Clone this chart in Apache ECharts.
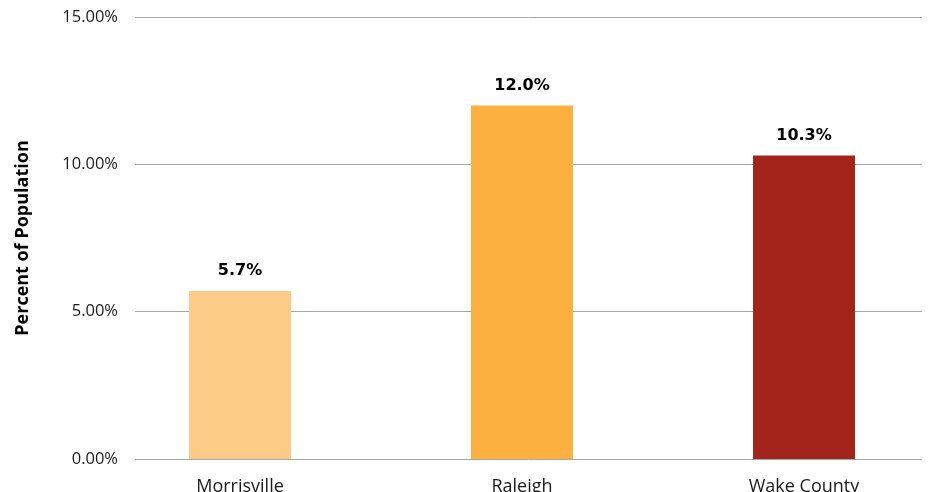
<!DOCTYPE html>
<html><head><meta charset="utf-8">
<script src="https://cdn.jsdelivr.net/npm/echarts@6/dist/echarts.min.js"></script>
<style>html,body{margin:0;padding:0;background:#fff}#c{width:928px;height:492px}</style>
</head><body><div id="c"></div>
<script>
const categories = ["Morrisville", "Raleigh", "Wake County"];
const values = [5.7, 12.0, 10.3];
const colors = ["#FDCB88", "#FBB040", "#A3241A"];
const yTicks = [0, 5, 10, 15];

const chart = echarts.init(document.getElementById('c'), null, {renderer: 'canvas'});
chart.setOption({
  animation: false,
  grid: [
    {left: 135, right: 6, top: 17, bottom: 33, containLabel: false, outerBoundsMode: 'none'},
    {left: 99, right: -17, top: 17, bottom: 33, containLabel: false, outerBoundsMode: 'none'}
  ],
  xAxis: [
    {type: 'value', gridIndex: 0, min: 0, max: 1, show: false},
    {
      type: 'category', gridIndex: 1, data: categories,
      axisLine: {show: false},
      axisTick: {show: false},
      axisLabel: {color: '#1a1a1a', fontSize: 18, fontFamily: 'Open Sans', margin: 19}
    }
  ],
  yAxis: [
    {
      type: 'value', gridIndex: 0, min: yTicks[0], max: yTicks[yTicks.length-1], interval: 5,
      name: 'Percent of Population', nameLocation: 'middle', nameGap: 103,
      nameTextStyle: {fontSize: 18, fontWeight: 'bold', color: '#000', fontFamily: 'Open Sans'},
      axisLine: {show: false}, axisTick: {show: false},
      splitLine: {lineStyle: {color: '#A6A6A6', width: 1}},
      axisLabel: {color: '#1a1a1a', fontSize: 16.5, fontFamily: 'Open Sans', margin: 17,
        formatter: v => v.toFixed(2) + '%'}
    },
    {
      type: 'value', gridIndex: 1, min: yTicks[0], max: yTicks[yTicks.length-1], interval: 5,
      show: false, splitLine: {show: false}
    }
  ],
  series: [{
    type: 'bar', xAxisIndex: 1, yAxisIndex: 1, barWidth: 102,
    data: values.map((v, i) => ({value: v, itemStyle: {color: colors[i]}})),
    label: {show: true, position: 'top', distance: 12, fontSize: 16, fontWeight: 'bold',
      color: '#000', fontFamily: 'DejaVu Sans', formatter: p => p.value.toFixed(1) + '%'}
  }]
});
</script></body></html>
